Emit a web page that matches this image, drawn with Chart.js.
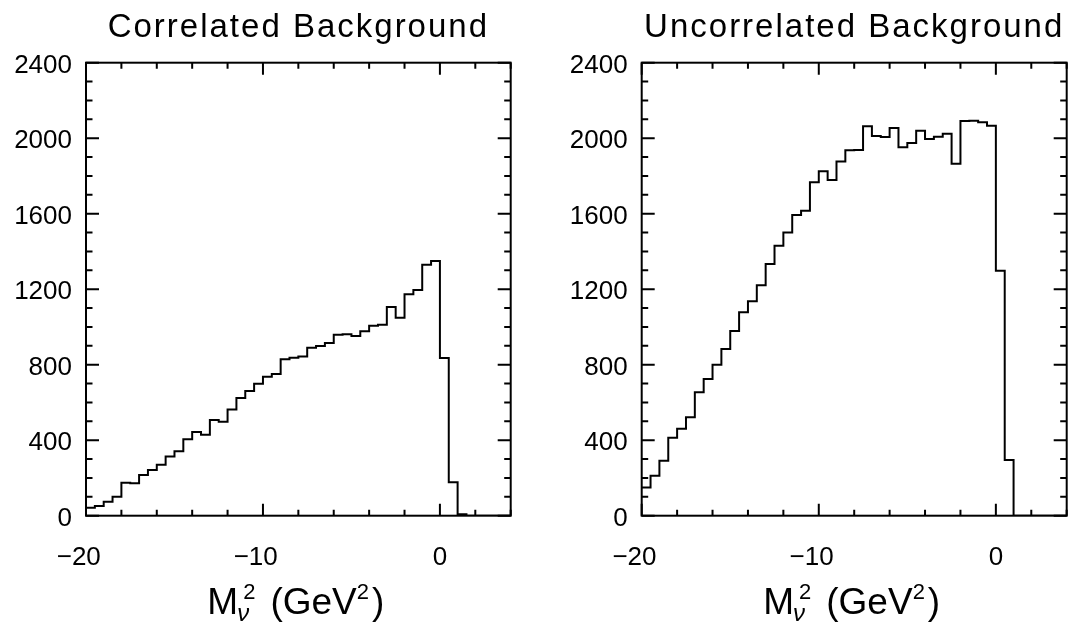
<!DOCTYPE html>
<html>
<head>
<meta charset="utf-8">
<script src="https://cdn.jsdelivr.net/npm/chart.js@4.4.0/dist/chart.umd.min.js"></script>
<style>
  html, body { margin: 0; padding: 0; background: #fff; }
  #wrap { position: relative; width: 1079px; height: 633px; }
  .panel { position: absolute; top: 0; height: 633px; }
  #left { left: 0; width: 540px; }
  #right { left: 540px; width: 539px; }
</style>
</head>
<body>
<div id="wrap">
  <div class="panel" id="left"><canvas id="corrChart"></canvas></div>
  <div class="panel" id="right"><canvas id="uncorrChart"></canvas></div>
</div>
<script>
// bin lower edges (GeV^2), width 0.5
const binEdges = [
  -20, -19.5, -19, -18.5, -18, -17.5, -17, -16.5, -16, -15.5, -15, -14.5,
  -14, -13.5, -13, -12.5, -12, -11.5, -11, -10.5, -10, -9.5, -9, -8.5,
  -8, -7.5, -7, -6.5, -6, -5.5, -5, -4.5, -4, -3.5, -3, -2.5,
  -2, -1.5, -1, -0.5, 0, 0.5, 1, 1.5, 2, 2.5, 3, 3.5
];
const lastEdge = 4;

const corrCounts = [
  42, 52, 74, 101, 175, 172, 216, 242, 270, 313, 341, 405,
  443, 429, 507, 498, 562, 624, 661, 699, 736, 751, 829, 837,
  843, 890, 899, 915, 959, 961, 952, 977, 1007, 1012, 1106, 1049,
  1173, 1196, 1330, 1349, 835, 177, 8, 0, 0, 0, 0, 0
];
const uncorrCounts = [
  150, 212, 291, 413, 461, 521, 654, 724, 800, 883, 979, 1078,
  1136, 1221, 1334, 1430, 1501, 1593, 1616, 1766, 1825, 1778, 1876, 1936,
  1938, 2063, 2011, 2006, 2054, 1952, 1975, 2040, 1996, 2008, 2024, 1865,
  2091, 2093, 2084, 2066, 1298, 295, 0, 0, 0, 0, 0, 0
];

const xMin = -20, xMax = 4, xMajor = 10, xMinor = 2;
const yMin = 0, yMax = 2400, yMajor = 400, yMinor = 100;

const FONT = '"Liberation Sans", Arial, sans-serif';

function histPoints(counts) {
  const pts = binEdges.map((e, i) => ({ x: e, y: counts[i] }));
  pts.push({ x: lastEdge, y: counts[counts.length - 1] });
  return pts;
}

// frame, inward ticks on all four sides, title and axis label
const framePlugin = {
  id: 'frame',
  afterDraw(chart, args, opts) {
    const ctx = chart.ctx;
    const a = chart.chartArea;
    const xs = chart.scales.x, ys = chart.scales.y;
    ctx.save();
    ctx.strokeStyle = '#000';
    ctx.lineWidth = 2;
    ctx.strokeRect(a.left, a.top, a.right - a.left, a.bottom - a.top);
    ctx.beginPath();
    for (let v = yMin; v <= yMax; v += yMinor) {
      const py = ys.getPixelForValue(v);
      const len = v % yMajor === 0 ? 13 : 6.5;
      ctx.moveTo(a.left, py); ctx.lineTo(a.left + len, py);
      ctx.moveTo(a.right, py); ctx.lineTo(a.right - len, py);
    }
    for (let v = xMin; v <= xMax; v += xMinor) {
      const px = xs.getPixelForValue(v);
      const len = v % xMajor === 0 ? 12 : 6;
      ctx.moveTo(px, a.bottom); ctx.lineTo(px, a.bottom - len);
      ctx.moveTo(px, a.top); ctx.lineTo(px, a.top + len);
    }
    ctx.stroke();

    const cx = (a.left + a.right) / 2;
    ctx.fillStyle = '#000';
    ctx.textBaseline = 'alphabetic';

    // title
    ctx.font = '33px ' + FONT;
    ctx.letterSpacing = '2px';
    ctx.textAlign = 'center';
    ctx.fillText(opts.title, cx, 37);
    ctx.letterSpacing = '0px';

    // axis label  M_nu^2 (GeV^2)
    const base = 614;
    const mainFont = '37px ' + FONT;
    const supFont = '22px ' + FONT;
    const subFont = 'italic 24px ' + FONT;
    ctx.textAlign = 'left';
    ctx.font = mainFont;
    const wM = ctx.measureText('M').width;
    const wOpen = ctx.measureText('(GeV').width;
    const wClose = ctx.measureText(')').width;
    ctx.font = subFont;
    const wNu = ctx.measureText('\u03bd').width;
    ctx.font = supFont;
    const w2 = ctx.measureText('2').width;
    const grp = Math.max(wNu, 6 + w2);
    const gap = 15;
    const total = wM + grp + gap + wOpen + w2 + 3 + wClose;
    let x = cx - total / 2 - 2;
    ctx.font = mainFont;
    ctx.fillText('M', x, base);
    x += wM - 1;
    ctx.font = subFont;
    ctx.fillText('\u03bd', x, base + 7);
    ctx.font = supFont;
    ctx.fillText('2', x + 6, base - 15);
    x += grp + gap;
    ctx.font = mainFont;
    ctx.fillText('(GeV', x, base);
    x += wOpen;
    ctx.font = supFont;
    ctx.fillText('2', x, base - 15);
    x += w2 + 3;
    ctx.font = mainFont;
    ctx.fillText(')', x, base);
    ctx.restore();
  }
};

function makeChart(id, title, counts, yAxisWidth, rightPad) {
  const ctx = document.getElementById(id).getContext('2d');
  return new Chart(ctx, {
    type: 'line',
    data: {
      datasets: [{
        label: title,
        data: histPoints(counts),
        borderColor: '#000',
        borderWidth: 2,
        pointRadius: 0,
        fill: false,
        stepped: 'before',
        tension: 0
      }]
    },
    options: {
      responsive: true,
      maintainAspectRatio: false,
      animation: false,
      events: [],
      layout: {
        padding: { top: 62.7, right: rightPad, bottom: 0, left: 0 }
      },
      plugins: {
        legend: { display: false },
        tooltip: { enabled: false },
        frame: { title: title }
      },
      scales: {
        x: {
          type: 'linear',
          min: xMin,
          max: xMax,
          grid: { display: false, drawTicks: false },
          border: { display: false },
          afterBuildTicks: (s) => { s.ticks = s.ticks.filter(t => t.value % xMajor === 0); },
          afterFit: (s) => { s.height = 117.3; },
          ticks: {
            stepSize: xMajor,
            padding: 27,
            color: '#000',
            maxRotation: 0,
            font: { family: FONT, size: 26 },
            callback: (v) => v < 0 ? '\u2212' + Math.abs(v) + '\u2007' : String(v)
          }
        },
        y: {
          min: yMin,
          max: yMax,
          grid: { display: false, drawTicks: false },
          border: { display: false },
          afterFit: (s) => { s.width = yAxisWidth; },
          ticks: {
            stepSize: yMajor,
            padding: 14,
            labelOffset: 3,
            color: '#000',
            font: { family: FONT, size: 26 },
            callback: (v) => String(v)
          }
        }
      }
    },
    plugins: [framePlugin]
  });
}

document.addEventListener('DOMContentLoaded', function () {
  window.corrChart = makeChart('corrChart', 'Correlated Background', corrCounts, 86, 29.3);
  window.uncorrChart = makeChart('uncorrChart', 'Uncorrelated Background', uncorrCounts, 101.7, 12.3);
});
</script>
</body>
</html>
